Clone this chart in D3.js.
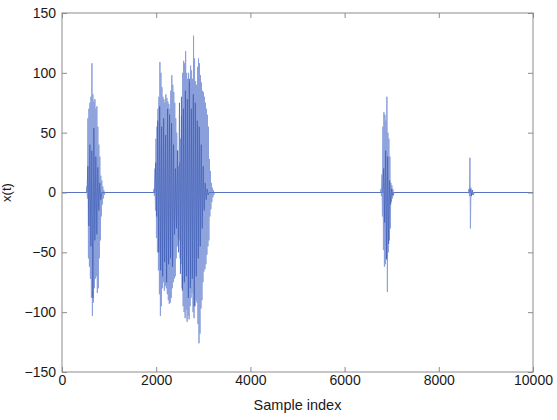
<!DOCTYPE html>
<html>
<head>
<meta charset="utf-8">
<script src="https://cdn.jsdelivr.net/npm/d3@7"></script>
<style>
  body { margin: 0; background: #fff; }
  svg { display: block; }
  text { font-family: Arial, "Liberation Sans", sans-serif; fill: #1a1a1a; }
</style>
</head>
<body>
<div id="chart"></div>
<script>
// axis setup
const xTicks = [0, 2000, 4000, 6000, 8000, 10000];
const yTicks = [-150, -100, -50, 0, 50, 100, 150];
const sampleCount = 10000;

// light trace: [max, min] read per ~21 samples
const lightStep = 21;
const burst1Start = 530;
const burst1Light = [
  [5, -5], [62, -55], [70, -62], [75, -72], [80, -88], [108, -103], [82, -92], [76, -80],
  [78, -72], [70, -70], [72, -84], [55, -80], [40, -55], [30, -40], [14, -20], [10, -10],
  [5, -5], [2, -2]
];
const burst2Start = 1953;
const burst2Light = [
  [3, -3], [20, -15], [45, -38], [55, -50], [70, -65], [80, -85], [109, -103], [100, -95],
  [88, -80], [80, -75], [78, -82], [75, -78], [82, -80], [79, -85], [76, -90], [74, -93],
  [70, -92], [85, -88], [98, -80], [90, -75], [84, -72], [75, -70], [62, -55], [50, -45],
  [35, -38], [22, -40], [25, -55], [45, -60], [64, -80], [100, -95], [110, -100], [108, -105],
  [118, -98], [100, -108], [95, -103], [100, -106], [92, -95], [106, -88], [102, -84], [95, -100],
  [131, -105], [112, -95], [93, -90], [90, -92], [105, -110], [112, -126], [108, -118], [98, -97],
  [92, -90], [85, -75], [84, -66], [80, -64], [75, -60], [70, -52], [65, -45], [55, -40],
  [28, -20], [18, -14], [8, -8], [4, -4], [2, -2]
];
const burst3Start = 6772;
const burst3Light = [
  [3, -3], [15, -20], [55, -48], [67, -62], [65, -60], [60, -55], [80, -83], [50, -50],
  [45, -40], [30, -30], [8, -8], [6, -5], [3, -3]
];
const burst4Start = 8640;
const burst4Light = [[3, -3], [29, -30], [4, -3], [2, -2]];

// dark trace: [max, min] read per ~42 samples
const darkStep = 42;
const burst1Dark = [[22, -28], [40, -45], [35, -88], [54, -40], [30, -35], [21, -15], [8, -6]];
const burst2Dark = [
  [25, -20], [60, -50], [72, -65], [55, -70], [62, -58], [48, -75], [70, -60], [65, -55],
  [58, -62], [40, -35], [20, -30], [35, -50], [75, -68], [80, -82], [70, -75], [85, -70],
  [78, -88], [95, -80], [70, -72], [82, -95], [75, -70], [60, -55], [55, -45], [40, -30],
  [22, -15], [8, -6], [3, -2]
];
const burst3Dark = [[20, -25], [35, -56], [30, -43], [10, -10], [3, -2]];
const burst4Dark = [[3, -3], [2, -2]];

const W = 557, H = 420;
const margin = { left: 62, right: 24, top: 13, bottom: 48 };

const x = d3.scaleLinear().domain([0, sampleCount]).range([margin.left, W - margin.right]);
const y = d3.scaleLinear().domain([-150, 150]).range([H - margin.bottom, margin.top]);

// one burst: back to zero before and after it
function trace(start, step, pairs) {
  const pts = pairs.flatMap((p, i) => [[start + i * step, p[0]], [start + i * step + step / 2, p[1]]]);
  return [[start - step / 2, 0], ...pts, [start + pairs.length * step, 0]];
}

const lightSeries = [[0, 0],
  ...trace(burst1Start, lightStep, burst1Light),
  ...trace(burst2Start, lightStep, burst2Light),
  ...trace(burst3Start, lightStep, burst3Light),
  ...trace(burst4Start, lightStep, burst4Light),
  [sampleCount, 0]];

const darkSeries = [[0, 0],
  ...trace(burst1Start + 20, darkStep, burst1Dark),
  ...trace(burst2Start + 37, darkStep, burst2Dark),
  ...trace(burst3Start + 58, darkStep, burst3Dark),
  ...trace(burst4Start + 30, darkStep, burst4Dark),
  [sampleCount, 0]];

const svg = d3.select('#chart').append('svg')
  .attr('width', W)
  .attr('height', H);

svg.append('rect').attr('width', W).attr('height', H).attr('fill', '#fff');

svg.append('clipPath').attr('id', 'plot-clip')
  .append('rect')
  .attr('x', x(0)).attr('y', y(150))
  .attr('width', x(sampleCount) - x(0))
  .attr('height', y(-150) - y(150));

const line = d3.line().x(d => x(d[0])).y(d => y(d[1]));

const plot = svg.append('g').attr('clip-path', 'url(#plot-clip)');

plot.append('path')
  .datum(lightSeries)
  .attr('d', line)
  .attr('fill', 'none')
  .attr('stroke', '#8a9fdb')
  .attr('stroke-width', 1);

plot.append('path')
  .datum(darkSeries)
  .attr('d', line)
  .attr('fill', 'none')
  .attr('stroke', '#3556b0')
  .attr('stroke-opacity', 0.75)
  .attr('stroke-width', 0.8);

// axes, ticks pointing inward like MATLAB
const axisColor = '#8c8c8c';

const gx = svg.append('g')
  .attr('transform', `translate(0,${y(-150)})`)
  .call(d3.axisBottom(x).tickValues(xTicks).tickSize(-5).tickPadding(3).tickFormat(d3.format('d')));
const gxTop = svg.append('g')
  .attr('transform', `translate(0,${y(150)})`)
  .call(d3.axisTop(x).tickValues(xTicks).tickSize(-5).tickFormat(''));
const gy = svg.append('g')
  .attr('transform', `translate(${x(0)},0)`)
  .call(d3.axisLeft(y).tickValues(yTicks).tickSize(-5).tickPadding(6).tickFormat(d3.format('d')));
const gyRight = svg.append('g')
  .attr('transform', `translate(${x(sampleCount)},0)`)
  .call(d3.axisRight(y).tickValues(yTicks).tickSize(-5).tickFormat(''));

[gx, gxTop, gy, gyRight].forEach(g => {
  g.select('.domain').remove();
  g.selectAll('.tick line').attr('stroke', axisColor);
  g.selectAll('.tick text')
    .attr('font-size', 14)
    .attr('font-family', 'Arial, "Liberation Sans", sans-serif')
    .attr('fill', '#1a1a1a');
});

svg.append('rect')
  .attr('x', x(0)).attr('y', y(150))
  .attr('width', x(sampleCount) - x(0))
  .attr('height', y(-150) - y(150))
  .attr('fill', 'none')
  .attr('stroke', axisColor)
  .attr('stroke-width', 1);

svg.append('text')
  .attr('x', (x(0) + x(sampleCount)) / 2)
  .attr('y', 410)
  .attr('text-anchor', 'middle')
  .attr('font-size', 14.5)
  .text('Sample index');

svg.append('text')
  .attr('transform', `translate(11,${y(0)}) rotate(-90)`)
  .attr('text-anchor', 'middle')
  .attr('font-size', 13)
  .text('x(t)');
</script>
</body>
</html>
